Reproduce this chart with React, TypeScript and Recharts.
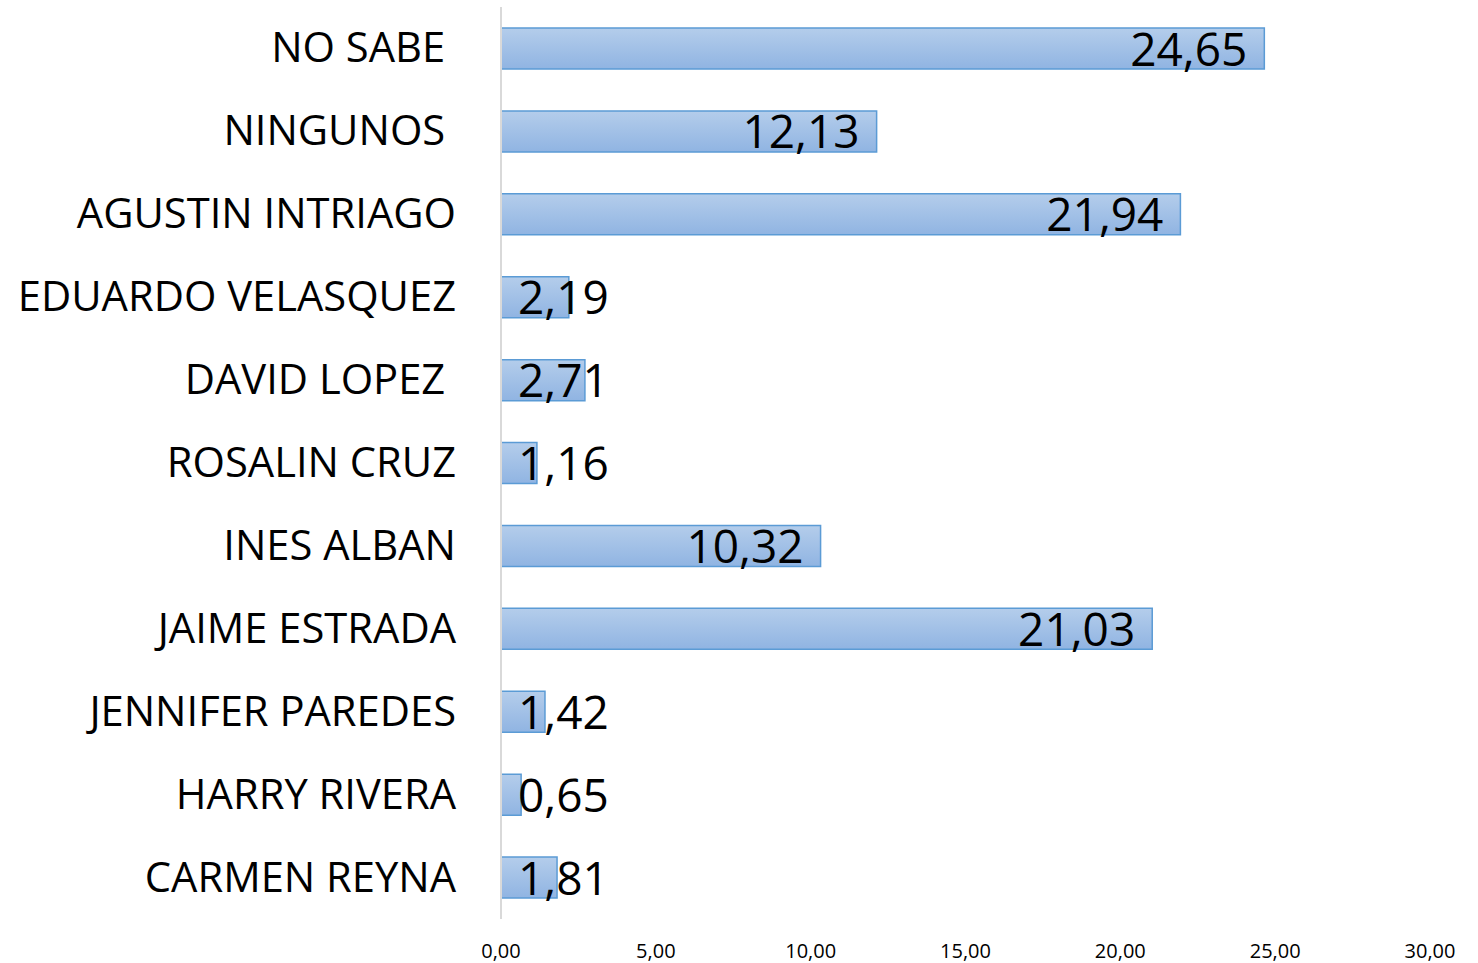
import React from 'react';
import { BarChart, Bar, XAxis, YAxis, LabelList } from 'recharts';

const categories = [
  'NO SABE ',
  'NINGUNOS ',
  'AGUSTIN INTRIAGO',
  'EDUARDO VELASQUEZ',
  'DAVID LOPEZ ',
  'ROSALIN CRUZ',
  'INES ALBAN',
  'JAIME ESTRADA',
  'JENNIFER PAREDES',
  'HARRY RIVERA',
  'CARMEN REYNA',
];
const values = [24.65, 12.13, 21.94, 2.19, 2.71, 1.16, 10.32, 21.03, 1.42, 0.65, 1.81];
const xTicks = [0, 5, 10, 15, 20, 25, 30];

const data = categories.map((name, i) => ({ name, value: values[i] }));

const fmt = (v: number) => v.toFixed(2).replace('.', ',');

const FONT = '"Open Sans", "Noto Sans", sans-serif';
const LABEL_SIZE = 46;

const renderLabel = (props: any) => {
  const { x, y, width, height, value } = props;
  const text = fmt(Number(value));
  const estW = text.length * LABEL_SIZE * 0.5;
  const cy = Number(y) + Number(height) / 2 + 17;
  const fits = Number(width) > estW + 34;
  return (
    <text
      x={fits ? Number(x) + Number(width) - 17 : Number(x) + 17}
      y={cy}
      textAnchor={fits ? 'end' : 'start'}
      fontSize={LABEL_SIZE}
      fontFamily={FONT}
      fill="#000"
    >
      {text}
    </text>
  );
};

const YTick = (props: any) => {
  const { y, payload } = props;
  return (
    <text
      x={456}
      y={Number(y) + 14}
      textAnchor="end"
      fontSize={41.7}
      fontFamily={FONT}
      fill="#000"
      style={{ whiteSpace: 'pre' }}
    >
      {payload.value}
    </text>
  );
};

const XTick = (props: any) => {
  const { x, payload } = props;
  return (
    <text
      x={x}
      y={958}
      textAnchor="middle"
      fontSize={20}
      fontFamily={FONT}
      fill="#000"
    >
      {fmt(Number(payload.value))}
    </text>
  );
};

export default function App() {
  return (
    <div style={{ position: 'absolute', left: 0, top: 0, width: 1478, height: 963, background: '#fff' }}>
      <BarChart
        width={1478}
        height={963}
        data={data}
        layout="vertical"
        margin={{ top: 7, right: 48, bottom: 14, left: 0 }}
      >
        <defs>
          <linearGradient id="barGrad" x1="0" y1="0" x2="0" y2="1">
            <stop offset="0%" stopColor="#b4cdeb" />
            <stop offset="100%" stopColor="#90b4e2" />
          </linearGradient>
        </defs>
        <XAxis
          type="number"
          domain={[0, 30]}
          ticks={xTicks}
          axisLine={false}
          tickLine={false}
          height={30}
          tick={<XTick />}
          interval={0}
        />
        <YAxis
          type="category"
          dataKey="name"
          width={501}
          axisLine={{ stroke: '#d9d9d9', strokeWidth: 2 }}
          tickLine={false}
          tick={<YTick />}
          interval={0}
        />
        <Bar
          dataKey="value"
          barSize={41}
          fill="url(#barGrad)"
          stroke="#5b9bd5"
          strokeWidth={1.5}
          isAnimationActive={false}
        >
          <LabelList dataKey="value" content={renderLabel} />
        </Bar>
      </BarChart>
    </div>
  );
}
